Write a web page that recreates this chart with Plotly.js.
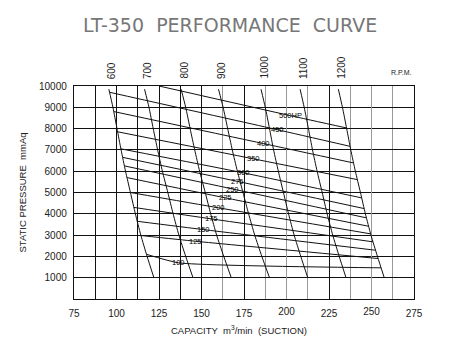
<!DOCTYPE html>
<html>
<head>
<meta charset="utf-8">
<script src="https://cdn.plot.ly/plotly-3.0.1.min.js"></script>
<style>html,body{margin:0;padding:0;background:#fff;}#chart{width:464px;height:355px;}</style>
</head>
<body>
<div id="chart"></div>
<script>
// ---- data ----
const xTicks = [75, 100, 125, 150, 175, 200, 225, 250, 275];
const yTicks = [1000, 2000, 3000, 4000, 5000, 6000, 7000, 8000, 9000, 10000];

// R.P.M. curves: capacity (m3/min) at each static pressure level
const rpmLabels = [600, 700, 800, 900, 1000, 1100, 1200];
const rpmPressure = [9850, 9000, 8000, 7000, 6000, 5000, 4000, 3000, 2000, 1000];
const rpm600  = [95.5, 97.9, 100.3, 102.7, 105.3, 108.2, 111.1, 114.3, 118.0, 122.0];
const rpm700  = [116.5, 119.1, 121.6, 124.2, 127.0, 130.2, 133.3, 136.7, 140.7, 145.0];
const rpm800  = [138.0, 140.7, 143.3, 146.0, 148.9, 152.2, 155.4, 158.9, 163.1, 167.5];
const rpm900  = [160.0, 162.7, 165.4, 168.1, 171.1, 174.4, 177.7, 181.3, 185.5, 190.0];
const rpm1000 = [185.0, 187.5, 190.0, 192.4, 195.2, 198.2, 201.2, 204.5, 208.4, 212.5];
const rpm1100 = [208.0, 210.4, 212.9, 215.3, 218.0, 221.0, 223.9, 227.2, 231.0, 235.0];
const rpm1200 = [230.5, 232.9, 235.4, 237.8, 240.5, 243.5, 246.4, 249.7, 253.5, 257.5];
const rpmCurves = [rpm600, rpm700, rpm800, rpm900, rpm1000, rpm1100, rpm1200];

// Power (HP) curves: start, label point, end
const hpLabels = ["500HP", "450", "400", "350", "300", "275", "250", "225", "200", "175", "150", "125", "100"];
const hpX = [
  [125.0, 202.4, 235.3],
  [96.2, 194.5, 237.4],
  [98.4, 186.6, 239.4],
  [100.7, 180.8, 241.7],
  [102.6, 174.9, 244.2],
  [103.6, 171.0, 245.7],
  [104.6, 168.1, 247.0],
  [106.2, 164.1, 248.3],
  [108.2, 160.2, 249.5],
  [110.2, 155.7, 250.9],
  [112.0, 151.0, 252.4],
  [114.4, 146.5, 253.9],
  [117.6, 136.6, 255.6]
];
const hpY = [
  [10000, 8606, 8030],
  [9700, 7950, 7167],
  [8800, 7294, 6388],
  [7850, 6576, 5605],
  [7050, 5919, 4747],
  [6650, 5525, 4245],
  [6250, 5169, 3809],
  [5700, 4747, 3415],
  [5000, 4278, 3058],
  [4300, 3762, 2683],
  [3650, 3260, 2289],
  [2980, 2711, 1900],
  [2100, 1698, 1463]
];

// ---- grid styling (visual only) ----
const gridBlackMinor = [87.5, 112.5, 137.5];
const gridGrayMinor = [162.5, 187.5, 212.5, 237.5, 262.5];
const grayLabelled = [200, 250];
const blackLabelled = xTicks.filter(v => grayLabelled.indexOf(v) < 0);
const labelNudge = {"300": 0.6, "275": 0.3, "250": -0.6};

const traces = [];
rpmCurves.forEach((xs, i) => {
  traces.push({x: xs, y: rpmPressure, mode: 'lines', line: {color: '#111', width: 1, shape: 'spline', smoothing: 0.6},
    showlegend: false, hoverinfo: 'skip', xaxis: 'x', yaxis: 'y'});
});
hpX.forEach((xs, i) => {
  traces.push({x: xs, y: hpY[i], mode: 'lines', line: {color: '#111', width: 1, shape: 'spline', smoothing: 0.5},
    showlegend: false, hoverinfo: 'skip', xaxis: 'x', yaxis: 'y'});
});
traces.push({x: [null], y: [null], xaxis: 'x2', yaxis: 'y', showlegend: false, hoverinfo: 'skip'});

const FONT = 'Liberation Sans, Arial, sans-serif';
const tickFont = {family: FONT, size: 10, color: '#222'};

const annotations = [];
rpmLabels.forEach((r, i) => {
  annotations.push({x: rpmCurves[i][0], xref: 'x', y: 1, yref: 'paper', yanchor: 'bottom', xanchor: 'center',
    yshift: 5, xshift: 3, text: String(r), textangle: -90, showarrow: false,
    font: {family: FONT, size: 10, color: '#222'}});
});
annotations.push({x: 1, xref: 'paper', y: 1, yref: 'paper', xanchor: 'right', yanchor: 'bottom', yshift: 8, xshift: 0,
  text: 'R.P.M.', showarrow: false, font: {family: FONT, size: 7, color: '#222'}});
hpLabels.forEach((t, i) => {
  annotations.push({x: hpX[i][1], y: hpY[i][1], xref: 'x', yref: 'y', text: t, showarrow: false,
    yshift: labelNudge[t] || 0,
    font: {family: FONT, size: 7.5, color: '#000'}});
});
annotations.push({x: 0.485, xref: 'paper', y: 0, yref: 'paper', yanchor: 'top', xanchor: 'center', yshift: -23,
  text: 'CAPACITY\u00a0\u00a0m<sup>3</sup>/min\u00a0\u00a0(SUCTION)', showarrow: false,
  font: {family: FONT, size: 9.5, color: '#222'}});

const layout = {
  width: 464, height: 355,
  margin: {l: 74, r: 50, t: 86, b: 56},
  paper_bgcolor: '#fff', plot_bgcolor: '#fff',
  title: {text: 'LT-350\u00a0\u00a0PERFORMANCE\u00a0\u00a0CURVE', x: 0.496, xref: 'container', xanchor: 'center',
    y: 0.928, yref: 'container', yanchor: 'middle',
    font: {family: 'DejaVu Sans, sans-serif', size: 19, color: '#777'}},
  xaxis: {range: [75, 275], tickvals: blackLabelled, ticktext: blackLabelled.map(String),
    showgrid: true, gridcolor: '#111', gridwidth: 1, zeroline: false,
    minor: {tickvals: gridBlackMinor, showgrid: true, gridcolor: '#111', gridwidth: 1, ticks: ''},
    showline: true, linecolor: '#111', linewidth: 1.2, mirror: true, ticks: '', tickfont: tickFont,
    ticklabelstandoff: 5},
  xaxis2: {range: [75, 275], overlaying: 'x', matches: 'x', side: 'bottom', anchor: 'y',
    tickvals: grayLabelled, ticktext: grayLabelled.map(String), showgrid: true, gridcolor: '#999', gridwidth: 1,
    minor: {tickvals: gridGrayMinor, showgrid: true, gridcolor: '#999', gridwidth: 1, ticks: ''},
    zeroline: false, showline: false, ticks: '', tickfont: tickFont, ticklabelstandoff: 5},
  yaxis: {range: [0, 10000], tickvals: yTicks, ticktext: yTicks.map(String), showgrid: true, gridcolor: '#111', gridwidth: 1,
    zeroline: false, showline: true, linecolor: '#111', linewidth: 1.2, mirror: true, ticks: '', tickfont: tickFont,
    ticklabelstandoff: 4,
    title: {text: 'STATIC PRESSURE\u00a0\u00a0mmAq', standoff: 10,
      font: {family: FONT, size: 9.5, color: '#222'}}},
  annotations: annotations
};

Plotly.newPlot('chart', traces, layout, {staticPlot: true, displayModeBar: false});
</script>
</body>
</html>
